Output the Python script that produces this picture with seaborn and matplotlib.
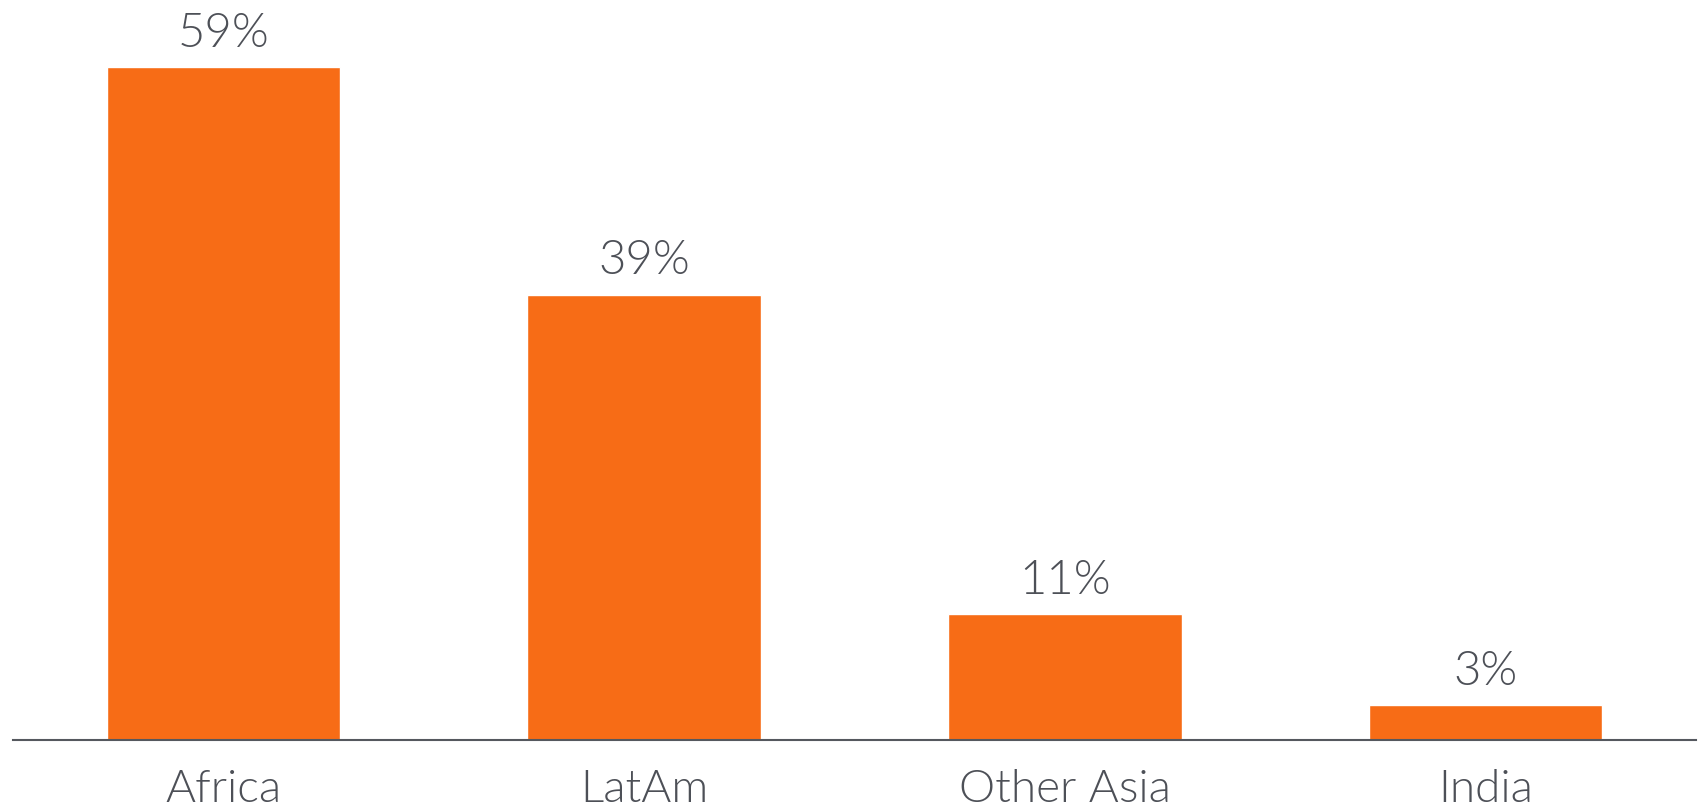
import matplotlib
matplotlib.use("Agg")
import matplotlib.pyplot as plt
import seaborn as sns
import pandas as pd

regions = ["Africa", "LatAm", "Other Asia", "India"]
shares = [59, 39, 11, 3]
labels = ["59%", "39%", "11%", "3%"]

BAR = "#F76C16"
TXT = "#4D5057"

sns.set_theme(style="white")
plt.rcParams["font.family"] = ["Lato", "DejaVu Sans"]

df = pd.DataFrame({"region": regions, "share": shares})

fig = plt.figure(figsize=(16.98, 8.08), dpi=100)
ax = fig.add_axes([13 / 1698, 0.0847, 1683 / 1698, 0.9876 - 0.0847])
sns.barplot(data=df, x="region", y="share", color=BAR, width=0.555,
            saturation=1, ax=ax)

# value labels above the bars
for p, lab in zip(ax.patches, labels):
    ax.annotate(lab, (p.get_x() + p.get_width() / 2, p.get_height()),
                xytext=(0, 9), textcoords="offset points", ha="center",
                va="bottom", fontsize=34, color=TXT, fontweight=300)

ax.set_xlim(-0.5, 3.5)
ax.set_ylim(0, 64)
ax.set_xlabel("")
ax.set_ylabel("")
ax.set_yticks([])
for s in ["top", "right", "left"]:
    ax.spines[s].set_visible(False)
ax.spines["bottom"].set_color("#55585E")
ax.spines["bottom"].set_linewidth(1.5)
ax.tick_params(axis="x", length=0, pad=21, labelsize=33, labelcolor=TXT)
for t in ax.get_xticklabels():
    t.set_fontweight(300)

fig.savefig("out.png", dpi=100, facecolor="white")
